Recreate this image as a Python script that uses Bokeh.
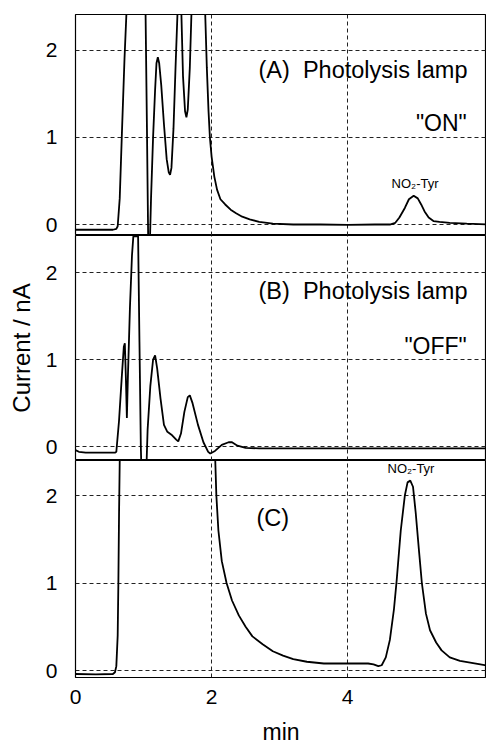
from bokeh.plotting import figure
from bokeh.layouts import column
from bokeh.models import FixedTicker, Label
from bokeh.embed import file_html
from bokeh.resources import INLINE

FONT = "Liberation Sans"

# ---------------- data ----------------
x_tick_values = [0, 2, 4]
y_tick_values = [0, 1, 2]
x_label = "min"
y_label = "Current / nA"
panel_titles = ["(A)\u00a0\u00a0Photolysis lamp", "(B)\u00a0\u00a0Photolysis lamp", "(C)"]
lamp_states = ['"ON"', '"OFF"']
peak_name = "NO\u2082-Tyr"

# (A) lamp ON
a_min = [0.00, 0.30, 0.55, 0.60, 0.62, 0.65, 0.68, 0.72, 0.75, 0.78,
         0.90, 1.00, 1.03, 1.05, 1.07, 1.09, 1.11, 1.14, 1.17, 1.19,
         1.21, 1.23, 1.26, 1.30, 1.34, 1.37, 1.39, 1.41, 1.44, 1.47,
         1.50, 1.53, 1.555, 1.58, 1.61, 1.63, 1.65, 1.68, 1.705, 1.74,
         1.86, 1.905, 1.93, 1.955, 1.975, 2.00, 2.04, 2.08, 2.13, 2.20,
         2.28, 2.36, 2.45, 2.56, 2.70, 2.90, 3.20, 3.60, 4.00, 4.40,
         4.62, 4.70, 4.76, 4.84, 4.90, 4.97, 5.03, 5.08, 5.13, 5.19,
         5.26, 5.35, 5.50, 5.75, 6.10]
a_nA = [-0.06, -0.06, -0.06, -0.05, -0.02, 0.30, 1.00, 1.90, 2.45, 3.50,
        3.50, 3.50, 2.40, 1.10, -0.30, -0.30, 0.30, 1.00, 1.55, 1.85,
        1.92, 1.85, 1.60, 1.15, 0.75, 0.60, 0.57, 0.65, 1.10, 1.80,
        2.45, 3.20, 2.45, 1.70, 1.30, 1.23, 1.32, 1.80, 2.45, 3.50,
        3.50, 2.45, 1.80, 1.30, 1.00, 0.78, 0.55, 0.40, 0.29, 0.23,
        0.17, 0.13, 0.09, 0.06, 0.03, 0.01, 0.00, 0.00, -0.005, 0.00,
        0.00, 0.02, 0.08, 0.19, 0.29, 0.33, 0.30, 0.23, 0.15, 0.08,
        0.04, 0.03, 0.02, 0.01, 0.00]

# (B) lamp OFF
b_min = [0.00, 0.05, 0.15, 0.40, 0.58, 0.60, 0.64, 0.68, 0.71, 0.725,
         0.74, 0.755, 0.77, 0.80, 0.83, 0.85, 0.92, 0.94, 0.96, 0.97,
         1.04, 1.06, 1.10, 1.14, 1.17, 1.20, 1.25, 1.30, 1.35, 1.42,
         1.48, 1.51, 1.55, 1.60, 1.65, 1.68, 1.72, 1.80, 1.88, 1.95,
         1.98, 2.05, 2.15, 2.25, 2.30, 2.38, 2.50, 2.70, 3.50, 6.10]
b_nA = [-0.04, -0.06, -0.07, -0.07, -0.07, -0.06, 0.30, 0.80, 1.15, 1.19,
        0.80, 0.33, 0.80, 1.60, 2.20, 2.42, 2.42, 1.20, 0.00, -0.30,
        -0.30, 0.20, 0.70, 1.00, 1.05, 0.90, 0.55, 0.25, 0.17, 0.13,
        0.08, 0.06, 0.15, 0.40, 0.57, 0.59, 0.50, 0.25, 0.05, -0.06,
        -0.08, -0.05, 0.02, 0.05, 0.05, 0.01, -0.015, -0.02, -0.02, -0.02]

# (C)
c_min = [0.00, 0.30, 0.55, 0.58, 0.60, 0.62, 0.63, 0.64, 0.65, 0.66,
         1.00, 2.00, 2.05, 2.07, 2.10, 2.15, 2.22, 2.30, 2.40, 2.50,
         2.60, 2.75, 2.90, 3.05, 3.20, 3.40, 3.65, 4.00, 4.30, 4.38,
         4.45, 4.50, 4.56, 4.62, 4.68, 4.72, 4.78, 4.84, 4.88, 4.92,
         4.96, 5.00, 5.05, 5.09, 5.15, 5.21, 5.30, 5.38, 5.50, 5.65,
         5.80, 5.95, 6.10]
c_nA = [-0.04, -0.045, -0.04, -0.02, 0.05, 0.40, 1.00, 1.80, 2.40, 3.00,
        3.50, 3.50, 2.50, 2.00, 1.60, 1.25, 1.00, 0.80, 0.63, 0.50,
        0.39, 0.30, 0.22, 0.17, 0.13, 0.10, 0.08, 0.08, 0.08, 0.07,
        0.05, 0.06, 0.15, 0.35, 0.70, 1.03, 1.60, 2.00, 2.15, 2.17,
        2.10, 1.80, 1.35, 1.00, 0.65, 0.46, 0.32, 0.23, 0.15, 0.11,
        0.09, 0.07, 0.05]


def panel(xs, ys, y_lo, y_hi, frame_h, top, bottom, show_x=False, ylab=None):
    p = figure(frame_width=411, frame_height=frame_h,
               x_range=(0.0, 6.04), y_range=(y_lo, y_hi),
               output_backend="svg", toolbar_location=None, title=None,
               min_border_left=75, min_border_right=0,
               min_border_top=top, min_border_bottom=bottom)
    p.background_fill_color = "white"
    p.border_fill_color = "white"
    p.outline_line_color = "black"
    p.outline_line_width = 1.2

    for ax in (p.xaxis, p.yaxis):
        ax.major_tick_line_color = None
        ax.minor_tick_line_color = None
        ax.axis_line_color = None
        ax.major_label_text_font = FONT
        ax.major_label_text_font_size = "21px"
        ax.major_label_text_color = "black"
        ax.axis_label_text_font = FONT
        ax.axis_label_text_font_size = "23px"
        ax.axis_label_text_font_style = "normal"
        ax.axis_label_text_color = "black"
    p.yaxis.ticker = FixedTicker(ticks=y_tick_values)
    p.xaxis.ticker = FixedTicker(ticks=x_tick_values)
    p.yaxis.major_label_standoff = 12
    if ylab:
        p.yaxis.axis_label = ylab
        p.yaxis.axis_label_text_font_size = "24px"
        p.yaxis.axis_label_standoff = 8
    if show_x:
        p.xaxis.axis_label = x_label
        p.xaxis.major_label_standoff = 6
        p.xaxis.axis_label_standoff = 12
    else:
        p.xaxis.visible = False

    p.xgrid.ticker = FixedTicker(ticks=x_tick_values)
    p.ygrid.ticker = FixedTicker(ticks=y_tick_values)
    for g in (p.xgrid, p.ygrid):
        g.grid_line_color = "#222222"
        g.grid_line_dash = "4 3"
        g.grid_line_width = 1

    p.line(xs, ys, line_color="black", line_width=1.8)
    return p


def label(p, x, y, text, size="23px", align="left"):
    p.add_layout(Label(x=x, y=y, text=text, text_font=FONT, text_font_size=size,
                       text_align=align, text_baseline="middle", text_color="black"))


pA = panel(a_min, a_nA, -0.126, 2.41, 221, 14, 0)
label(pA, 2.69, 1.776, panel_titles[0], size="23.5px")
label(pA, 5.75, 1.167, lamp_states[0], align="right")
label(pA, 4.99, 0.47, peak_name, size="13px", align="center")

pB = panel(b_min, b_nA, -0.16, 2.43, 225, 0, 0, ylab=y_label)
label(pB, 2.69, 1.794, panel_titles[1], size="23.5px")
label(pB, 5.75, 1.159, lamp_states[1], align="right")

pC = panel(c_min, c_nA, -0.08, 2.40, 217, 0, 66, show_x=True)
label(pC, 2.66, 1.747, panel_titles[2], size="23.5px")
label(pC, 4.93, 2.31, peak_name, size="13px", align="center")

layout = column(pA, pB, pC)
open("out.html", "w").write(file_html(layout, INLINE))
